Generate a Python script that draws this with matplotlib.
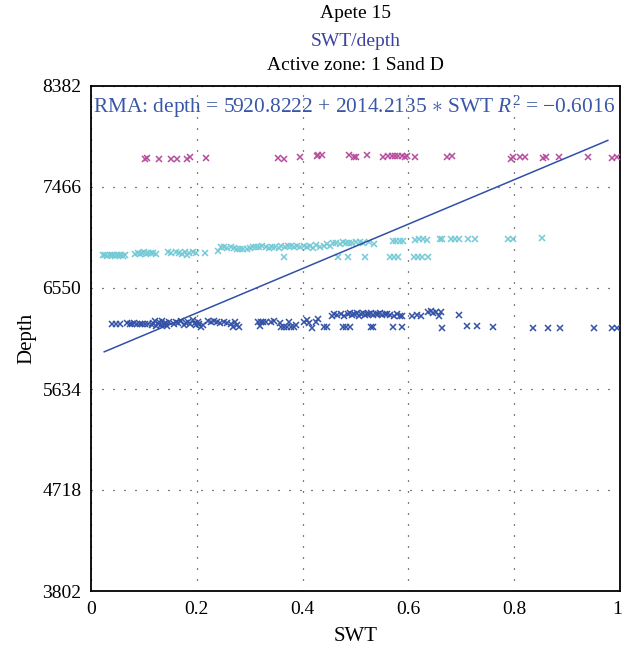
import matplotlib
matplotlib.use("Agg")
import matplotlib.pyplot as plt
import matplotlib.transforms as mtransforms
import numpy as np

plt.rcParams['font.family'] = ['Liberation Serif', 'DejaVu Serif']
plt.rcParams['mathtext.fontset'] = 'custom'
plt.rcParams['mathtext.rm'] = 'Liberation Serif'
plt.rcParams['mathtext.it'] = 'Liberation Serif:italic'

# Upper band (magenta)
swt_upper = [0.102, 0.106, 0.129, 0.152, 0.162, 0.182, 0.188, 0.217, 0.354, 0.365,
             0.395, 0.427, 0.430, 0.436, 0.488, 0.497, 0.500, 0.522, 0.552, 0.562,
             0.569, 0.575, 0.581, 0.588, 0.594, 0.597, 0.612, 0.673, 0.682, 0.794,
             0.797, 0.811, 0.820, 0.854, 0.860, 0.885, 0.940, 0.985, 0.995]
depth_upper = [7722, 7725, 7720, 7722, 7722, 7720, 7735, 7730, 7730, 7718,
               7735, 7745, 7760, 7755, 7755, 7735, 7742, 7757, 7735, 7750,
               7750, 7750, 7750, 7750, 7740, 7750, 7735, 7740, 7748, 7722,
               7740, 7735, 7740, 7730, 7740, 7735, 7740, 7733, 7738]

# Middle band (cyan)
swt_middle = [0.022, 0.027, 0.031, 0.035, 0.039, 0.042, 0.046, 0.050, 0.053, 0.057,
              0.061, 0.065, 0.084, 0.088, 0.092, 0.096, 0.100, 0.104, 0.108, 0.113,
              0.117, 0.123, 0.145, 0.152, 0.160, 0.166, 0.172, 0.178, 0.181, 0.186,
              0.192, 0.198, 0.215, 0.240, 0.246, 0.252, 0.258, 0.264, 0.270, 0.276,
              0.282, 0.288, 0.294, 0.300, 0.306, 0.312, 0.318, 0.324, 0.330, 0.336,
              0.342, 0.348, 0.355, 0.360, 0.366, 0.372, 0.378, 0.384, 0.390, 0.396,
              0.402, 0.408, 0.414, 0.420, 0.426, 0.432, 0.440, 0.446, 0.452, 0.458,
              0.464, 0.470, 0.476, 0.482, 0.488, 0.494, 0.500, 0.508, 0.515, 0.525,
              0.535, 0.365, 0.467, 0.486, 0.518, 0.565, 0.572, 0.580, 0.610, 0.618,
              0.626, 0.637, 0.570, 0.577, 0.585, 0.590, 0.612, 0.620, 0.628, 0.636,
              0.660, 0.663, 0.680, 0.688, 0.695, 0.712, 0.726, 0.788, 0.797, 0.853]
depth_middle = [6845, 6850, 6842, 6848, 6852, 6845, 6840, 6850, 6846, 6852,
                6844, 6848, 6862, 6870, 6858, 6866, 6872, 6860, 6868, 6864,
                6870, 6862, 6872, 6865, 6880, 6870, 6860, 6875, 6845, 6868,
                6880, 6870, 6865, 6890, 6920, 6925, 6915, 6922, 6910, 6905,
                6900, 6908, 6905, 6915, 6920, 6925, 6918, 6930, 6920, 6912,
                6918, 6925, 6915, 6930, 6920, 6928, 6935, 6920, 6930, 6925,
                6935, 6920, 6930, 6915, 6940, 6925, 6930, 6945, 6935, 6960,
                6955, 6950, 6965, 6955, 6960, 6955, 6970, 6965, 6955, 6965,
                6950, 6835, 6830, 6830, 6830, 6835, 6835, 6835, 6835, 6835,
                6835, 6830, 6980, 6980, 6980, 6980, 6985, 6990, 6990, 6985,
                6995, 6990, 6990, 6990, 6990, 6990, 6990, 6995, 6990, 7005]

# Lower band (blue)
swt_lower = [0.040, 0.047, 0.055, 0.068, 0.073, 0.078, 0.082, 0.087, 0.092, 0.097,
             0.103, 0.108, 0.115, 0.118, 0.121, 0.123, 0.126, 0.129, 0.132, 0.135,
             0.138, 0.141, 0.144, 0.148, 0.156, 0.160, 0.165, 0.170, 0.175, 0.180,
             0.184, 0.188, 0.192, 0.196, 0.199, 0.202, 0.205, 0.208, 0.212, 0.222,
             0.226, 0.232, 0.238, 0.244, 0.252, 0.258, 0.264, 0.268, 0.272, 0.276,
             0.280, 0.316, 0.319, 0.322, 0.326, 0.330, 0.340, 0.345, 0.357, 0.360,
             0.365, 0.370, 0.375, 0.378, 0.383, 0.388, 0.403, 0.408, 0.412, 0.418,
             0.425, 0.430, 0.440, 0.447, 0.455, 0.460, 0.465, 0.472, 0.478, 0.476,
             0.482, 0.490, 0.486, 0.490, 0.494, 0.498, 0.502, 0.506, 0.510, 0.514,
             0.518, 0.522, 0.526, 0.530, 0.534, 0.538, 0.542, 0.546, 0.550, 0.555,
             0.560, 0.566, 0.572, 0.578, 0.584, 0.588, 0.529, 0.533, 0.571, 0.588,
             0.607, 0.617, 0.624, 0.637, 0.642, 0.647, 0.652, 0.657, 0.662, 0.664,
             0.695, 0.711, 0.730, 0.760, 0.836, 0.864, 0.887, 0.951, 0.985, 0.995]
depth_lower = [6225, 6225, 6225, 6232, 6228, 6225, 6230, 6222, 6228, 6225,
               6222, 6228, 6215, 6235, 6250, 6205, 6225, 6240, 6210, 6255,
               6220, 6235, 6205, 6245, 6220, 6240, 6230, 6255, 6215, 6235,
               6245, 6220, 6260, 6230, 6210, 6240, 6225, 6195, 6215, 6255,
               6240, 6250, 6245, 6235, 6240, 6230, 6220, 6200, 6245, 6215,
               6195, 6240, 6205, 6245, 6240, 6245, 6245, 6250, 6235, 6195,
               6195, 6195, 6240, 6195, 6200, 6215, 6245, 6260, 6230, 6190,
               6245, 6270, 6195, 6195, 6300, 6310, 6305, 6310, 6300, 6195,
               6195, 6195, 6315, 6320, 6305, 6310, 6325, 6300, 6315, 6320,
               6305, 6315, 6310, 6320, 6305, 6315, 6310, 6320, 6305, 6315,
               6310, 6305, 6300, 6310, 6300, 6295, 6200, 6200, 6195, 6200,
               6300, 6305, 6300, 6330, 6345, 6320, 6335, 6300, 6330, 6190,
               6305, 6205, 6205, 6200, 6185, 6185, 6185, 6190, 6190, 6190]

# Reduced major axis fit
intercept = 5920.8222
slope = 2014.2135
r2 = -0.6016
fit_swt = [0.025, 0.977]

y_ticks = [3802, 4718, 5634, 6550, 7466, 8382]
x_ticks = [0, 0.2, 0.4, 0.6, 0.8, 1]
x_tick_labels = ['0', '0.2', '0.4', '0.6', '0.8', '1']

fig = plt.figure(figsize=(6.22, 6.51), dpi=100)
ax = fig.add_axes([91 / 622, 1 - 591 / 651, 529 / 622, (591 - 86) / 651])

ms = 5
ax.plot(swt_upper, depth_upper, 'x', color='#b84c9e', ms=ms, mew=1.1, zorder=3)
ax.plot(swt_middle, depth_middle, 'x', color='#74cad7', ms=ms, mew=1.1, zorder=3)
ax.plot(swt_lower, depth_lower, 'x', color='#3352a8', ms=ms, mew=1.1, zorder=3)

fx = np.array(fit_swt)
ax.plot(fx, intercept + slope * fx, color='#3050a8', lw=1.1, zorder=4)

ax.set_xlim(0, 1)
ax.set_ylim(y_ticks[0], y_ticks[-1])
ax.set_xticks(x_ticks)
ax.set_xticklabels(x_tick_labels)
ax.set_yticks(y_ticks)
ax.set_yticklabels([str(v) for v in y_ticks])
ax.tick_params(length=0, labelsize=14, pad=7)
ax.grid(True, color='black', linestyle=(0, (0.8, 8)), linewidth=0.9)
for s in ax.spines.values():
    s.set_linewidth(1.3)

# keep the last x tick label inside the canvas
last = ax.get_xticklabels()[-1]
last.set_transform(last.get_transform() +
                   mtransforms.ScaledTranslation(-3 / 100, 0, fig.dpi_scale_trans))

ax.set_xlabel('SWT', fontsize=15, labelpad=7)
ax.set_ylabel('Depth', fontsize=15, labelpad=4)

ax.text(0.004, 0.985,
        'RMA: depth = %.4f + %.4f $\\ast$ SWT $R^2$ = $-$%.4f' % (intercept, slope, abs(r2)),
        transform=ax.transAxes, ha='left', va='top', fontsize=15.4, color='#3a56a8')

cx = (91 + 620) / 2 / 622
fig.text(cx, 1 - 13 / 651, 'Apete 15', ha='center', va='center', fontsize=14, color='black')
fig.text(cx, 1 - 41 / 651, 'SWT/depth', ha='center', va='center', fontsize=14, color='#3b42a0')
fig.text(cx, 1 - 65 / 651, 'Active zone: 1 Sand D', ha='center', va='center', fontsize=14, color='black')

fig.savefig('out.png', dpi=100)
